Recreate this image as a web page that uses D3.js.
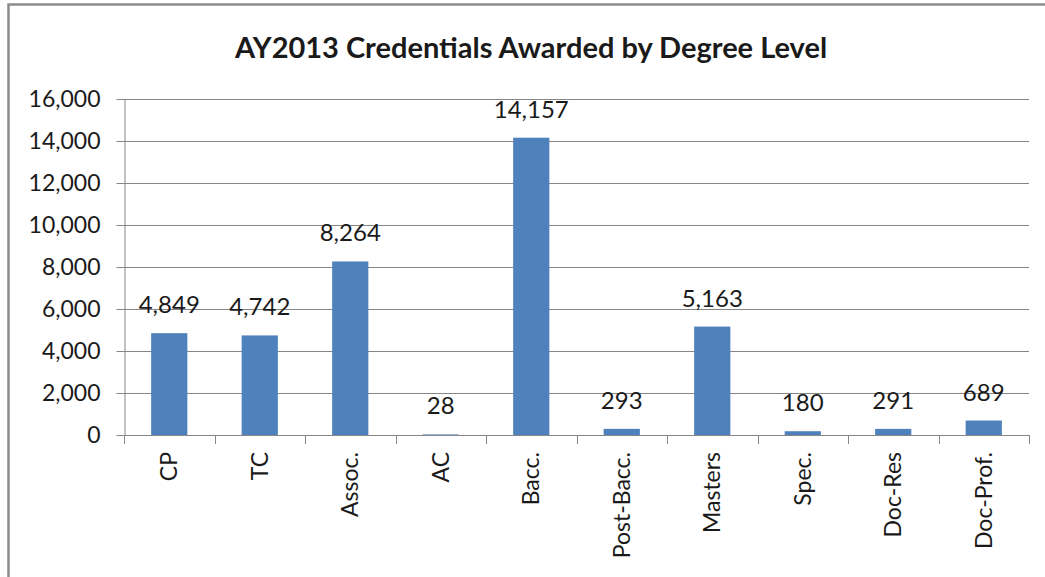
<!DOCTYPE html>
<html>
<head>
<meta charset="utf-8">
<script src="https://cdn.jsdelivr.net/npm/d3@7"></script>
<style>
  body { margin: 0; background: #fff; }
  svg { display: block; }
</style>
</head>
<body>
<svg></svg>
<script>
// data
const categories = ["CP", "TC", "Assoc.", "AC", "Bacc.", "Post-Bacc.", "Masters", "Spec.", "Doc-Res", "Doc-Prof."]
const awarded = [4849, 4742, 8264, 28, 14157, 293, 5163, 180, 291, 689]
const yTicks = [0, 2000, 4000, 6000, 8000, 10000, 12000, 14000, 16000]

const width = 1045
const height = 577
const margin = {top: 99, right: 16, bottom: 142, left: 124}

const barColour = "#4F81BD"
const gridColour = "#868686"
const textColour = "#1a1a1a"
const font = "Lato, 'Open Sans', sans-serif"

const svg = d3.select("svg")
  .attr("width", width)
  .attr("height", height)

// outer chart border (only left + top visible in the crop)
svg.append("path")
  .attr("d", `M8.5,${height} V4.5 H${width}`)
  .attr("fill", "none")
  .attr("stroke", "#8c8c8c")
  .attr("stroke-width", 2.5)

svg.append("text")
  .attr("x", 531)
  .attr("y", 58)
  .attr("text-anchor", "middle")
  .style("font-family", font)
  .style("font-weight", "bold")
  .style("font-size", "29px")
  .style("fill", textColour)
  .text("AY2013 Credentials Awarded by Degree Level")

const x = d3.scaleBand()
  .domain(categories)
  .range([margin.left, width - margin.right])
  .paddingInner(0.6)
  .paddingOuter(0.3)

const y = d3.scaleLinear()
  .domain([0, 16000])
  .range([height - margin.bottom, margin.top])

// gridlines
svg.append("g")
  .selectAll("line")
  .data(yTicks.slice(1))
  .join("line")
    .attr("x1", margin.left)
    .attr("x2", width - margin.right)
    .attr("y1", d => Math.round(y(d)) + 0.5)
    .attr("y2", d => Math.round(y(d)) + 0.5)
    .attr("stroke", gridColour)
    .attr("stroke-width", 1)

// y axis
const yAxis = svg.append("g")
  .attr("transform", `translate(${margin.left + 0.5},0)`)
  .call(d3.axisLeft(y).tickValues(yTicks).tickSize(8).tickSizeOuter(0).tickPadding(16)
    .tickFormat(d3.format(",")))
yAxis.selectAll("path, line").attr("stroke", gridColour)
yAxis.selectAll("text")
  .style("font-family", font)
  .style("font-size", "23px")
  .style("fill", textColour)

// bars
svg.append("g")
  .selectAll("rect")
  .data(awarded)
  .join("rect")
    .attr("x", (d, i) => x(categories[i]))
    .attr("width", x.bandwidth())
    .attr("y", d => y(d))
    .attr("height", d => y(0) - y(d))
    .attr("fill", barColour)

// x axis, with ticks between the categories
const x0 = y(0)
const step = (x.range()[1] - x.range()[0]) / categories.length
const xAxis = svg.append("g")
xAxis.append("line")
  .attr("x1", margin.left)
  .attr("x2", width - margin.right)
  .attr("y1", Math.round(x0) + 0.5)
  .attr("y2", Math.round(x0) + 0.5)
  .attr("stroke", gridColour)
xAxis.selectAll(".cat-tick")
  .data(d3.range(categories.length + 1))
  .join("line")
  .classed("cat-tick", true)
    .attr("x1", i => Math.round(x.range()[0] + i * step) + 0.5)
    .attr("x2", i => Math.round(x.range()[0] + i * step) + 0.5)
    .attr("y1", Math.round(x0))
    .attr("y2", Math.round(x0) + 9)
    .attr("stroke", gridColour)

xAxis.selectAll(".cat-label")
  .data(categories)
  .join("text")
  .classed("cat-label", true)
    .attr("transform", d => `translate(${x(d) + x.bandwidth() / 2 + 8},${x0 + 17}) rotate(-90)`)
    .attr("text-anchor", "end")
    .style("font-family", font)
    .style("font-size", "23px")
    .style("fill", textColour)
    .text(d => d)

// value labels
svg.append("g")
  .selectAll("text")
  .data(awarded)
  .join("text")
    .attr("x", (d, i) => x(categories[i]) + x.bandwidth() / 2)
    .attr("y", d => y(d) - 20)
    .attr("text-anchor", "middle")
    .style("font-family", font)
    .style("font-size", "24px")
    .style("fill", textColour)
    .text(d => d3.format(",")(d))
</script>
</body>
</html>
